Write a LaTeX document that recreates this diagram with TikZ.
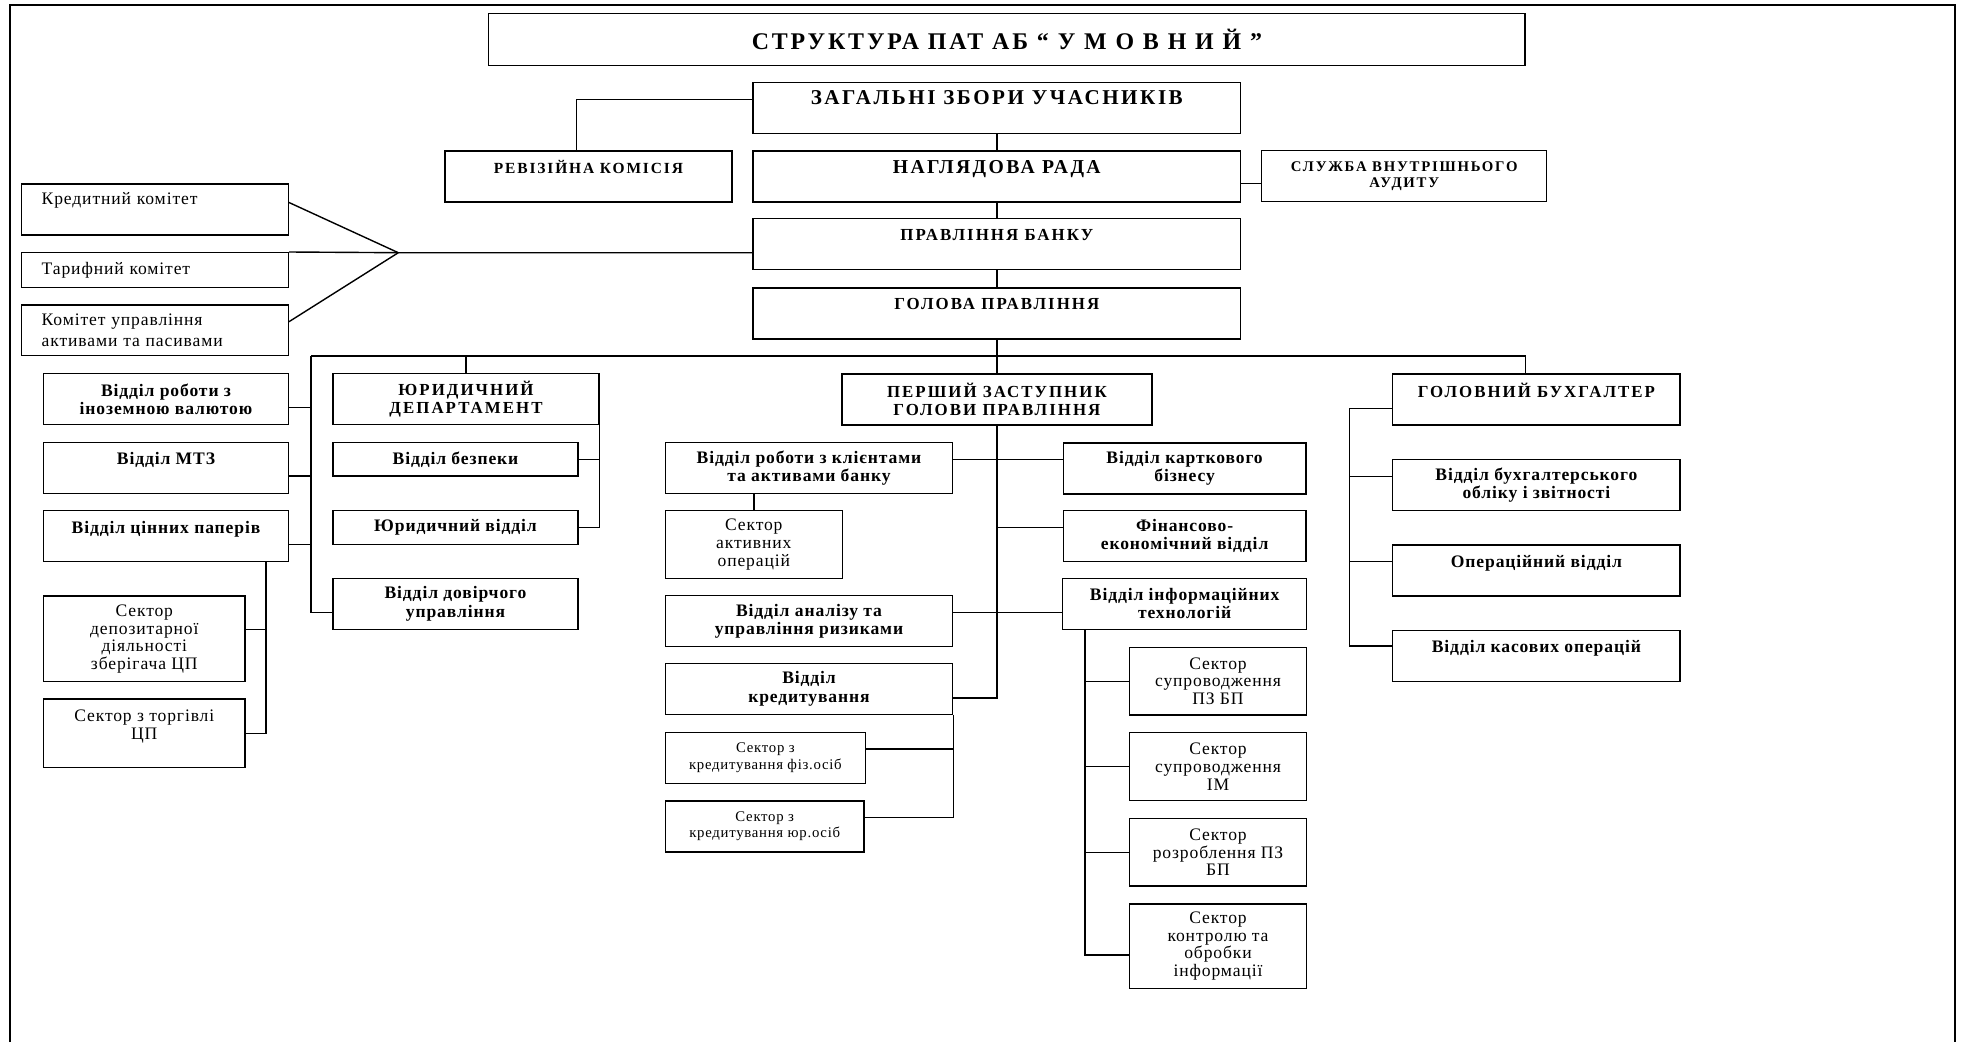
\documentclass[tikz,border=0pt]{standalone}
\usepackage{fontspec}
\setmainfont[LetterSpace=5]{Liberation Serif}
\newfontfamily\capsfont[LetterSpace=12]{Liberation Serif}
\usetikzlibrary{calc}
\newcommand{\px}{0.25mm}
\newcommand{\rulew}{0.35mm}
\tikzset{
  unit/.style={draw, line width=\rulew, inner sep=0pt, align=center,
    minimum height=51*\px, font=\bfseries\fontsize{12.5}{13}\selectfont},
  capsunit/.style={unit, font=\capsfont\bfseries\fontsize{12}{13}\selectfont},
  titleunit/.style={unit, font=\capsfont\bfseries\fontsize{17}{17}\selectfont},
  sector/.style={unit, font=\fontsize{12.5}{12.5}\selectfont},
  smallsector/.style={unit, font=\fontsize{10.5}{11.6}\selectfont},
  committee/.style={draw, line width=\rulew, align=left, inner ysep=0pt,
    inner xsep=20*\px, text width=56.65mm, minimum height=51*\px,
    font=\fontsize{12.5}{15}\selectfont},
  link/.style={line width=\rulew}
}

\begin{document}
\begin{tikzpicture}[x=\px, y=-\px]
\useasboundingbox (0,0) rectangle (1964,1042);
\draw[link] (10,1042) -- (10,5) -- (1955,5) -- (1955,1042);
%title
\node[titleunit] (title) at (1006.9, 39.5) [minimum width=1036.3*\px, minimum height=52.4*\px] {СТРУКТУРА ПАТ АБ “ У М О В Н И Й ”};
%governing bodies
\node[capsunit] (zag) at (996.8, 108.2) [minimum width=487.6*\px, font=\capsfont\bfseries\fontsize{15}{15}\selectfont] {ЗАГАЛЬНІ ЗБОРИ УЧАСНИКІВ\\~};
\node[capsunit] (reviz) at (588.4, 176.5) [minimum width=286.9*\px, font=\capsfont\bfseries\fontsize{11}{13}\selectfont] {РЕВІЗІЙНА КОМІСІЯ\\~};
\node[capsunit] (nagl) at (996.8, 176.5) [minimum width=487.6*\px, font=\capsfont\bfseries\fontsize{14}{14}\selectfont] {НАГЛЯДОВА РАДА\\~};
\node[capsunit] (sluzh) at (1404.2, 176.2) [minimum width=285*\px, font=\capsfont\bfseries\fontsize{10.5}{11.5}\selectfont] {СЛУЖБА ВНУТРІШНЬОГО\\АУДИТУ};
\node[capsunit] (pravl) at (996.8, 244.2) [minimum width=487.6*\px] {ПРАВЛІННЯ БАНКУ\\~};
\node[capsunit] (golova) at (996.8, 313.3) [minimum width=487.6*\px] {ГОЛОВА ПРАВЛІННЯ\\~};
%committees
\node[committee] (kred) at (155, 209.5) {Кредитний комітет\\~};
\node[committee] (tarif) at (155, 270) [minimum height=34.6*\px] {Тарифний комітет};
\node[committee] (komit) at (155, 330.4) [minimum height=50.7*\px] {Комітет управління\\активами та пасивами};
\coordinate (fan) at (398.3, 252.7);
%left column
\node[unit] (valuta) at (166, 399.2) [minimum width=245*\px] {Відділ роботи з\\іноземною валютою};
\node[unit] (mtz) at (166, 468) [minimum width=245*\px] {Відділ МТЗ\\~};
\node[unit] (tsinni) at (166, 536.2) [minimum width=245*\px] {Відділ цінних паперів\\~};
\node[sector] (depoz) at (144.3, 638.9) [minimum width=201.5*\px, minimum height=85.7*\px] {Сектор\\депозитарної\\діяльності\\зберігача ЦП};
\node[sector] (torg) at (144.3, 733.2) [minimum width=201.5*\px, minimum height=68.3*\px] {Сектор з торгівлі\\ЦП\\~};
%legal department
\node[capsunit] (yurdep) at (466, 399.2) [minimum width=266*\px] {ЮРИДИЧНИЙ\\ДЕПАРТАМЕНТ};
\node[unit] (bezp) at (455.5, 459.4) [minimum width=245*\px, minimum height=33.3*\px] {Відділ безпеки};
\node[unit] (yurvid) at (455.5, 527.5) [minimum width=245*\px, minimum height=33.6*\px] {Юридичний відділ};
\node[unit] (dover) at (455.5, 603.8) [minimum width=245*\px] {Відділ довірчого\\управління};
%first deputy
\node[capsunit] (pershyi) at (996.9, 399.5) [minimum width=310.2*\px] {ПЕРШИЙ ЗАСТУПНИК\\ГОЛОВИ ПРАВЛІННЯ};
\node[unit] (klient) at (809, 468) [minimum width=287*\px] {Відділ роботи з клієнтами\\та активами банку};
\node[sector] (aktyv) at (753.8, 544.5) [minimum width=176.8*\px, minimum height=67.6*\px] {Сектор\\активних\\операцій};
\node[unit] (analiz) at (809, 621.2) [minimum width=287*\px] {Відділ аналізу та\\управління ризиками};
\node[unit] (kredyt) at (809, 688.8) [minimum width=287*\px] {Відділ\\кредитування};
\node[smallsector] (fiz) at (765.4, 757.8) [minimum width=200*\px] {Сектор з\\кредитування фіз.осіб};
\node[smallsector] (yur) at (764.7, 826.5) [minimum width=198.6*\px] {Сектор з\\кредитування юр.осіб};
\node[unit] (kartk) at (1184.6, 468.3) [minimum width=242.8*\px] {Відділ карткового\\бізнесу};
\node[unit] (finans) at (1184.6, 536.2) [minimum width=242.8*\px] {Фінансово-\\економічний відділ};
\node[unit] (inform) at (1184.7, 603.8) [minimum width=244*\px] {Відділ інформаційних\\технологій};
\node[sector] (pzbp) at (1218, 681.2) [minimum width=177.4*\px, minimum height=67.7*\px] {Сектор\\супроводження\\ПЗ БП};
\node[sector] (im) at (1218, 766.7) [minimum width=177.4*\px, minimum height=68*\px] {Сектор\\супроводження\\ІМ};
\node[sector] (rozrob) at (1218, 852.2) [minimum width=177.4*\px, minimum height=67.7*\px] {Сектор\\розроблення ПЗ\\БП};
\node[sector] (kontrol) at (1218, 946.2) [minimum width=177.4*\px, minimum height=84.3*\px] {Сектор\\контролю та\\обробки\\інформації};
%chief accountant
\node[capsunit] (buh) at (1536.4, 399.5) [minimum width=287.3*\px] {ГОЛОВНИЙ БУХГАЛТЕР\\~};
\node[unit] (oblik) at (1536.4, 485) [minimum width=287.3*\px] {Відділ бухгалтерського\\обліку і звітності};
\node[unit] (oper) at (1536.4, 570.4) [minimum width=287.3*\px] {Операційний відділ\\~};
\node[unit] (kasa) at (1536.4, 655.9) [minimum width=287.3*\px] {Відділ касових операцій\\~};
%top links
\draw[link] ([yshift=9*\px]zag.west) -| ([xshift=-12*\px]reviz.north);
\draw[link] (zag.south) -- (nagl.north);
\draw[link] ([yshift=-7*\px]nagl.east) -- ([yshift=-7*\px]nagl.east -| sluzh.west);
\draw[link] (nagl.south) -- (pravl.north);
\draw[link] (pravl.south) -- (golova.north);
\draw[link] ([yshift=7*\px]kred.east) -- (fan);
\draw[link] (tarif.north east) -- (fan) -- (fan -| pravl.west);
\draw[link] ([yshift=8.7*\px]komit.east) -- (fan);
%bus
\coordinate (busL) at (311, 356);
\draw[link] (golova.south) -- (golova.south |- busL);
\draw[link] (busL) -- ([xshift=-11*\px]buh.north |- busL) -- ([xshift=-11*\px]buh.north);
\draw[link] (yurdep.north) -- (yurdep.north |- busL);
\draw[link] (pershyi.north) -- (pershyi.north |- busL);
%left column links
\draw[link] (busL) |- ([yshift=-8.5*\px]dover.west);
\draw[link] ([yshift=-8.5*\px]valuta.east) -- ([yshift=-8.5*\px]valuta.east -| busL);
\draw[link] ([yshift=-8*\px]mtz.east) -- ([yshift=-8*\px]mtz.east -| busL);
\draw[link] ([yshift=-8*\px]tsinni.east) -- ([yshift=-8*\px]tsinni.east -| busL);
\coordinate (tsv) at ([xshift=100*\px]tsinni.south);
\draw[link] (tsv) |- (torg.east);
\draw[link] ([yshift=9.6*\px]depoz.east) -- ([yshift=9.6*\px]depoz.east -| tsv);
\draw[link] (yurdep.south east) |- (yurvid.east);
\draw[link] (bezp.east) -- (bezp.east -| yurdep.east);
%deputy links
\draw[link] (pershyi.south) |- ([yshift=-9*\px]kredyt.east);
\draw[link] ([yshift=8.7*\px]klient.east) -- ([yshift=8.7*\px]klient.east -| kartk.west);
\draw[link] ([yshift=8.5*\px]finans.west) -- ([yshift=8.5*\px]finans.west -| pershyi.south);
\draw[link] ([yshift=8.9*\px]analiz.east) -- ([yshift=8.9*\px]analiz.east -| inform.west);
\draw[link] (aktyv.north) -- (aktyv.north |- klient.south);
\draw[link] (kredyt.south east) |- ([yshift=8.8*\px]yur.east);
\draw[link] ([yshift=8.8*\px]fiz.east) -- ([yshift=8.8*\px]fiz.east -| kredyt.east);
\coordinate (itv) at ([xshift=23*\px]inform.south west);
\draw[link] (itv) |- ([yshift=-8.8*\px]kontrol.west);
\draw[link] (pzbp.west) -- (pzbp.west -| itv);
\draw[link] (im.west) -- (im.west -| itv);
\draw[link] (rozrob.west) -- (rozrob.west -| itv);
%accountant links
\coordinate (bv) at ([xshift=-42.7*\px, yshift=-8.8*\px]buh.west);
\draw[link] ([yshift=-8.8*\px]buh.west) -- (bv) |- ([yshift=9.9*\px]kasa.west);
\draw[link] ([yshift=8.3*\px]oblik.west) -- ([yshift=8.3*\px]oblik.west -| bv);
\draw[link] ([yshift=8.7*\px]oper.west) -- ([yshift=8.7*\px]oper.west -| bv);
\end{tikzpicture}
\end{document}
